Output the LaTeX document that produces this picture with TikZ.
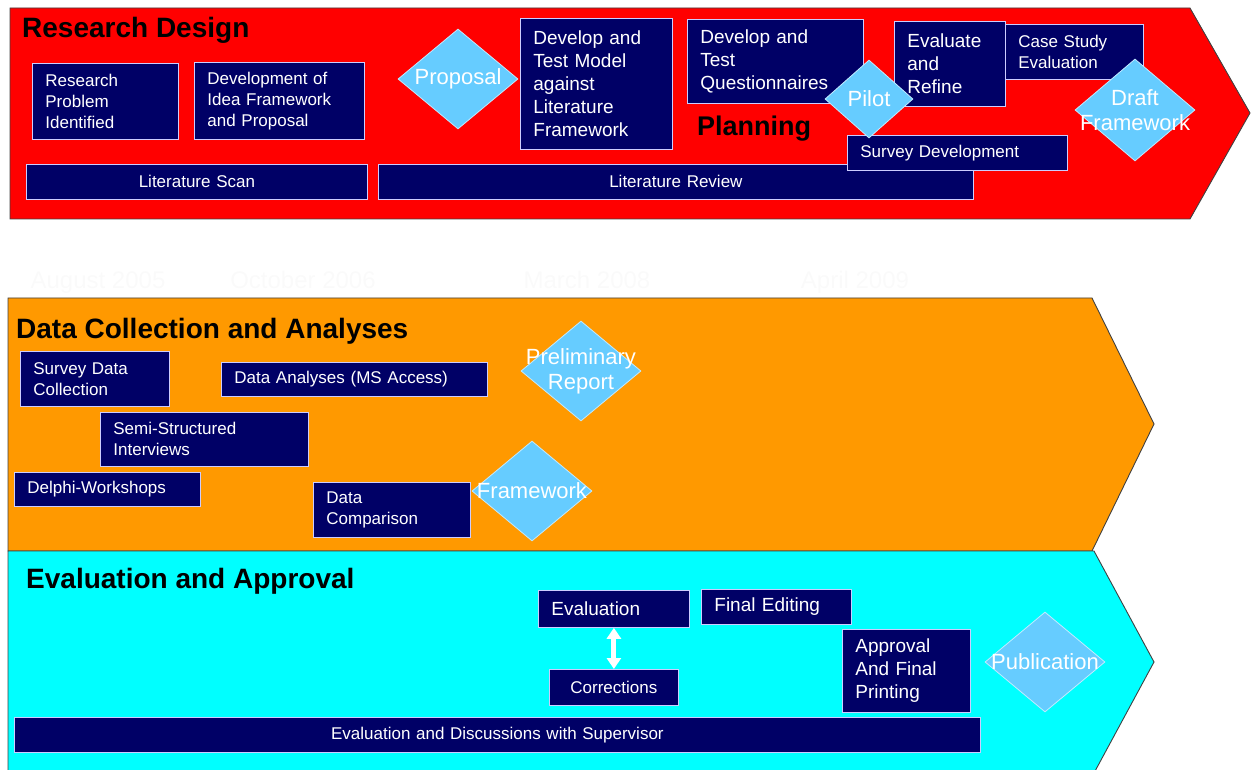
\documentclass[tikz,border=0pt]{standalone}
\usepackage{fontspec}
\setmainfont{Liberation Sans}
\usetikzlibrary{shapes.geometric,arrows.meta}
\definecolor{rdphase}{RGB}{255,0,0}
\definecolor{dcphase}{RGB}{255,153,0}
\definecolor{eaphase}{RGB}{0,255,255}
\definecolor{taskblue}{RGB}{0,0,102}
\definecolor{taskedge}{RGB}{204,204,255}
\definecolor{msblue}{RGB}{102,204,255}
\tikzset{
  phase/.style={draw=black!75, line width=0.9pt},
  phasetitle/.style={anchor=base west, inner sep=0pt, font=\fontsize{28}{32}\selectfont\bfseries},
  task/.style={anchor=north west, fill=taskblue, draw=taskedge, line width=0.8pt, text=white, align=left, inner xsep=13pt, inner ysep=0pt, font=\fontsize{17}{21}\selectfont},
  bigtask/.style={task, font=\fontsize{19}{23}\selectfont},
  bartask/.style={task, align=center, inner xsep=0pt},
  mstone/.style={diamond, fill=msblue, draw=white!60!msblue, line width=0.8pt, inner sep=0pt, minimum width=120pt, minimum height=100pt},
  mstext/.style={text=white, align=center, font=\fontsize{22}{25}\selectfont},
  datelabel/.style={anchor=base, text=black!2, font=\fontsize{24}{28}\selectfont},
}

\begin{document}
\begin{tikzpicture}[x=1pt,y=-1pt]
			%%%%% START %%%%%
			\useasboundingbox (0,0) rectangle (1251,770);
			\clip (0,0) rectangle (1251,770);
			
			% research design
			\draw[phase, fill=rdphase] (10,8) -- (1190,8) -- (1250,113) -- (1190,219) -- (10,219) -- cycle;
			\node[phasetitle] (rdtitle) at (22,38) {Research Design};
			
			\node[task, text width=120pt, minimum height=76pt] (problem) at (32,63) {Research\\Problem\\Identified};
			\node[task, text width=144pt, minimum height=77pt] (ideafw) at (194,62) {Development of\\Idea Framework\\and Proposal};
			\node[mstone, label={[mstext]center:Proposal}] (proposal) at (458,79) {};
			\node[bigtask, text width=126pt, minimum height=131pt] (testmodel) at (520,18) {Develop and\\Test Model\\against\\Literature\\Framework};
			\node[bigtask, text width=150pt, minimum height=84pt] (questions) at (687,19) {Develop and\\Test\\Questionnaires};
			\node[anchor=base, inner sep=0pt, font=\fontsize{27}{30}\selectfont\bfseries] (planning) at (754,136) {Planning};
			
			\node[task, text width=341pt, minimum height=35pt, bartask] (litscan) at (26,164) {Literature Scan};
			\node[task, text width=595pt, minimum height=35pt, bartask] (litreview) at (378,164) {Literature Review};
			\node[task, text width=194pt, minimum height=35pt, inner xsep=13pt] (surveydev) at (847,135) {Survey Development};
			
			\node[bigtask, text width=85pt, minimum height=85pt] (refine) at (894,21) {Evaluate\\and\\Refine};
			\node[task, text width=112pt, minimum height=55pt] (casestudy) at (1005,24) {Case Study\\Evaluation};
			\node[mstone, minimum width=88pt, minimum height=78pt, label={[mstext]center:Pilot}] (pilot) at (869,99) {};
			\node[mstone, minimum height=102pt, label={[mstext]center:Draft\\Framework}] (draftfw) at (1135,110) {};
			
			% dates
			\node[datelabel] (aug) at (98,289) {August 2005};
			\node[datelabel] (oct) at (303,289) {October 2006};
			\node[datelabel] (mar) at (587,289) {March 2008};
			\node[datelabel] (apr) at (855,289) {April 2009};
			
			% data collection
			\draw[phase, fill=dcphase] (8,298) -- (1092,298) -- (1154,424) -- (1092,551) -- (8,551) -- cycle;
			\node[phasetitle] (dctitle) at (16,338) {Data Collection and Analyses};
			
			\node[task, text width=123pt, minimum height=55pt] (surveydata) at (20,351) {Survey Data\\Collection};
			\node[task, text width=240pt, minimum height=34pt] (analyses) at (221,362) {Data Analyses (MS Access)};
			\node[mstone, label={[mstext]center:Preliminary\\Report}] (prelim) at (581,371) {};
			\node[task, text width=182pt, minimum height=54pt] (interviews) at (100,412) {Semi-Structured\\Interviews};
			\node[task, text width=160pt, minimum height=34pt] (delphi) at (14,472) {Delphi-Workshops};
			\node[task, text width=131pt, minimum height=55pt] (comparison) at (313,482) {Data\\Comparison};
			\node[mstone, label={[mstext]center:Framework}] (framework) at (532,491) {};
			
			% evaluation and approval
			\draw[phase, fill=eaphase] (8,551) -- (1094,551) -- (1154,662) -- (1094,773) -- (8,773) -- cycle;
			\node[phasetitle] (eatitle) at (26,588) {Evaluation and Approval};
			
			\node[bigtask, text width=125pt, minimum height=37pt] (evaluation) at (538,590) {Evaluation};
			\node[bigtask, text width=124pt, minimum height=35pt] (editing) at (701,589) {Final Editing};
			\node[bigtask, text width=129pt, minimum height=36pt, bartask] (corrections) at (549,669) {Corrections};
			\node[bigtask, text width=102pt, minimum height=83pt] (printing) at (842,629) {Approval\\And Final\\Printing};
			\node[mstone, label={[mstext]center:Publication}] (publication) at (1045,662) {};
			\node[task, text width=966pt, minimum height=35pt, bartask] (supervisor) at (14,717) {Evaluation and Discussions with Supervisor};
			
			\draw[white, line width=5pt, {Triangle[width=14pt,length=11pt]}-{Triangle[width=14pt,length=11pt]}] (evaluation.south) -- (corrections.north);
			
			%%%%% END %%%%%
\end{tikzpicture}
\end{document}
